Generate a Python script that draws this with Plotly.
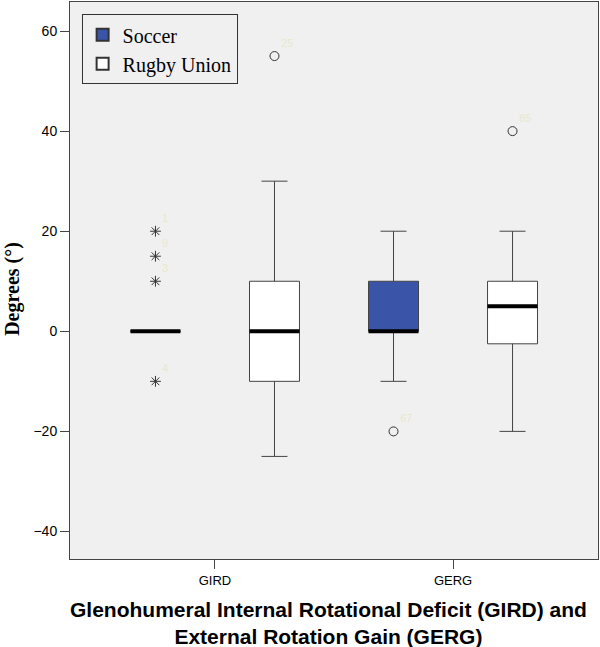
import plotly.graph_objects as go

# categories and groups
categories = ["GIRD", "GERG"]
groups = ["Soccer", "Rugby Union"]
group_offsets = [-0.25, 0.25]
box_colours = ["rgb(58, 84, 168)", "white"]

# box statistics per group, one value per category
q1 = {"Soccer": [0, 0], "Rugby Union": [-10, -2.5]}
median = {"Soccer": [0, 0], "Rugby Union": [0, 5]}
q3 = {"Soccer": [0, 10], "Rugby Union": [10, 10]}
lower = {"Soccer": [0, -10], "Rugby Union": [-25, -20]}
upper = {"Soccer": [0, 20], "Rugby Union": [30, 20]}

# outliers: group, category index, value, symbol, case label
out_group = ["Soccer", "Soccer", "Soccer", "Soccer", "Rugby Union", "Soccer", "Rugby Union"]
out_cat = [0, 0, 0, 0, 0, 1, 1]
out_value = [20, 15, 10, -10, 55, -20, 40]
out_symbol = ["asterisk-open", "asterisk-open", "asterisk-open", "asterisk-open",
              "circle-open", "circle-open", "circle-open"]
out_label = ["1", "9", "3", "4", "25", "67", "85"]

box_width = 0.21

fig = go.Figure()

for g, off, col in zip(groups, group_offsets, box_colours):
    xs = [i + off for i in range(len(categories))]
    fig.add_trace(go.Box(
        x=xs, q1=q1[g], median=median[g], q3=q3[g],
        lowerfence=lower[g], upperfence=upper[g],
        width=box_width, whiskerwidth=0.52,
        fillcolor=col, line=dict(color="#444444", width=1),
        showlegend=False, hoverinfo="skip"
    ))
    # thick median bar drawn as a flat box
    fig.add_trace(go.Box(
        x=xs, q1=median[g], median=median[g], q3=median[g],
        lowerfence=median[g], upperfence=median[g],
        width=box_width, whiskerwidth=0,
        fillcolor="black", line=dict(color="black", width=4),
        showlegend=False, hoverinfo="skip"
    ))

ox = [c + group_offsets[groups.index(g)] for g, c in zip(out_group, out_cat)]
fig.add_trace(go.Scatter(
    x=ox, y=out_value, mode="markers+text",
    marker=dict(symbol=out_symbol, size=9, color="#333333",
                line=dict(color="#333333", width=1)),
    text=out_label, textposition="top right",
    textfont=dict(color="rgb(232, 232, 205)", size=11, family="Liberation Sans"),
    showlegend=False, hoverinfo="skip"
))

# legend entries
for g, col in zip(groups, box_colours):
    fig.add_trace(go.Scatter(
        x=[None], y=[None], mode="markers", name=g,
        marker=dict(symbol="square", size=12, color=col,
                    line=dict(color="#333333", width=1))
    ))

fig.update_layout(
    width=600, height=647,
    margin=dict(l=70, r=2, t=2, b=88),
    paper_bgcolor="white",
    plot_bgcolor="#f0f0f0",
    font=dict(family="Liberation Sans", color="black"),
    legend=dict(
        x=0.022, y=0.978, xanchor="left", yanchor="top",
        bgcolor="#f0f0f0", bordercolor="#333333", borderwidth=1,
        font=dict(family="Liberation Serif", size=20),
        itemsizing="constant", itemwidth=30, tracegroupgap=0
    ),
    xaxis=dict(
        range=[-0.609, 1.609], automargin=False,
        tickmode="array", tickvals=list(range(len(categories))), ticktext=categories,
        ticks="outside", ticklen=9, tickcolor="#444444",
        tickfont=dict(size=13),
        showgrid=False, zeroline=False,
        showline=True, linecolor="#444444", linewidth=1, mirror=True
    ),
    yaxis=dict(
        range=[-45.5, 65.8], automargin=False,
        tickvals=[-40, -20, 0, 20, 40, 60],
        ticks="outside", ticklen=9, tickcolor="#444444",
        tickfont=dict(size=14),
        showgrid=False, zeroline=False,
        showline=True, linecolor="#444444", linewidth=1, mirror=True
    ),
    annotations=[
        dict(text="<b>Glenohumeral Internal Rotational Deficit (GIRD) and<br>External Rotation Gain (GERG)</b>",
             xref="paper", yref="paper", x=0.4905, y=-0.066, xanchor="center", yanchor="top",
             showarrow=False, font=dict(size=21, family="Liberation Sans")),
        dict(text="<b>Degrees (°)</b>", textangle=-90,
             xref="paper", yref="paper", x=-0.108, y=0.485, xanchor="center", yanchor="middle",
             showarrow=False, font=dict(size=20, family="Liberation Serif"))
    ]
)

fig.write_html("out.html", config={"displayModeBar": False},
               post_script="document.body.style.margin='0';")
